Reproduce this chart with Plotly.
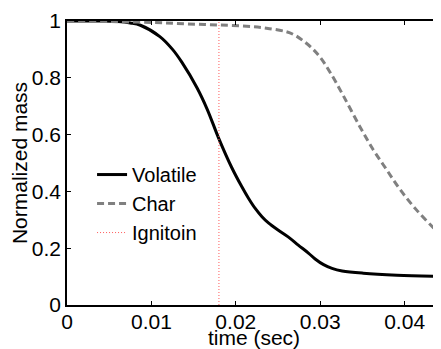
import plotly.graph_objects as go

# Data
t_vol = [0, 0.004, 0.006, 0.0075, 0.0087, 0.011, 0.0125, 0.0136, 0.0154, 0.0166,
         0.0180, 0.0195, 0.0207, 0.0215, 0.0223, 0.0231, 0.0239, 0.0250, 0.0262,
         0.0274, 0.0286, 0.0294, 0.0304, 0.0314, 0.0326, 0.0351, 0.0391, 0.0445]
y_vol = [1.0, 1.0, 0.998, 0.993, 0.985, 0.945, 0.90, 0.855, 0.765, 0.69,
         0.585, 0.485, 0.417, 0.376, 0.340, 0.311, 0.288, 0.264, 0.240,
         0.211, 0.183, 0.162, 0.142, 0.129, 0.120, 0.112, 0.105, 0.100]

t_char = [0, 0.005, 0.010, 0.014, 0.018, 0.022, 0.024, 0.026, 0.027, 0.028, 0.029,
          0.030, 0.0312, 0.0327, 0.0347, 0.0363, 0.0379, 0.0395, 0.0414, 0.0434, 0.0445]
y_char = [1.0, 0.998, 0.995, 0.99, 0.986, 0.98, 0.973, 0.962, 0.950, 0.930, 0.905,
          0.872, 0.818, 0.739, 0.628, 0.546, 0.475, 0.405, 0.335, 0.272, 0.240]

t_ign = [0.018, 0.018]
y_ign = [0, 1]

x_ticks = [0, 0.01, 0.02, 0.03, 0.04]
x_ticklabels = ["0", "0.01", "0.02", "0.03", "0.04"]
y_ticks = [0, 0.2, 0.4, 0.6, 0.8, 1]
y_ticklabels = ["0", "0.2", "0.4", "0.6", "0.8", "1"]

FONT = "Liberation Sans, Arial, Helvetica, sans-serif"

fig = go.Figure()
fig.add_trace(go.Scatter(x=t_vol, y=y_vol, mode="lines", name="Volatile",
                         line=dict(color="black", width=3, shape="spline", smoothing=1)))
fig.add_trace(go.Scatter(x=t_char, y=y_char, mode="lines", name="Char",
                         line=dict(color="#808080", width=3, dash="7px,4px",
                                   shape="spline", smoothing=1)))
fig.add_trace(go.Scatter(x=t_ign, y=y_ign, mode="lines", name="Ignitoin",
                         line=dict(color="#ff5a5a", width=1, dash="1px,2px")))

# page body has an 8px margin: the figure is sized/offset so the plot lands
# where the reference shows it in the 441x349 window
fig.update_layout(
    width=433, height=341,
    margin=dict(l=59, r=0, t=13, b=44),
    paper_bgcolor="white", plot_bgcolor="white",
    font=dict(family=FONT, size=21, color="black"),
    showlegend=True,
    legend=dict(x=0.067, y=0.528, xanchor="left", yanchor="top",
                bgcolor="rgba(0,0,0,0)", borderwidth=0, font=dict(size=20)),
)
fig.update_xaxes(range=[0, 0.04431], tickvals=x_ticks, ticktext=x_ticklabels,
                 automargin=False, ticklabelstandoff=-3,
                 showgrid=False, zeroline=False, showline=True, linecolor="black",
                 linewidth=1.5, mirror="ticks", ticks="inside", ticklen=4,
                 tickcolor="black", tickfont=dict(size=21),
                 title=dict(text="time (sec)", standoff=3, font=dict(size=21)))
fig.update_yaxes(range=[0, 1], tickvals=y_ticks, ticktext=y_ticklabels,
                 automargin=False,
                 showgrid=False, zeroline=False, showline=True, linecolor="black",
                 linewidth=1.5, mirror=False, ticks="inside", ticklen=4,
                 tickcolor="black", tickfont=dict(size=21),
                 title=dict(text="Normalized mass", standoff=8, font=dict(size=21)))

fig.write_html("out.html")
